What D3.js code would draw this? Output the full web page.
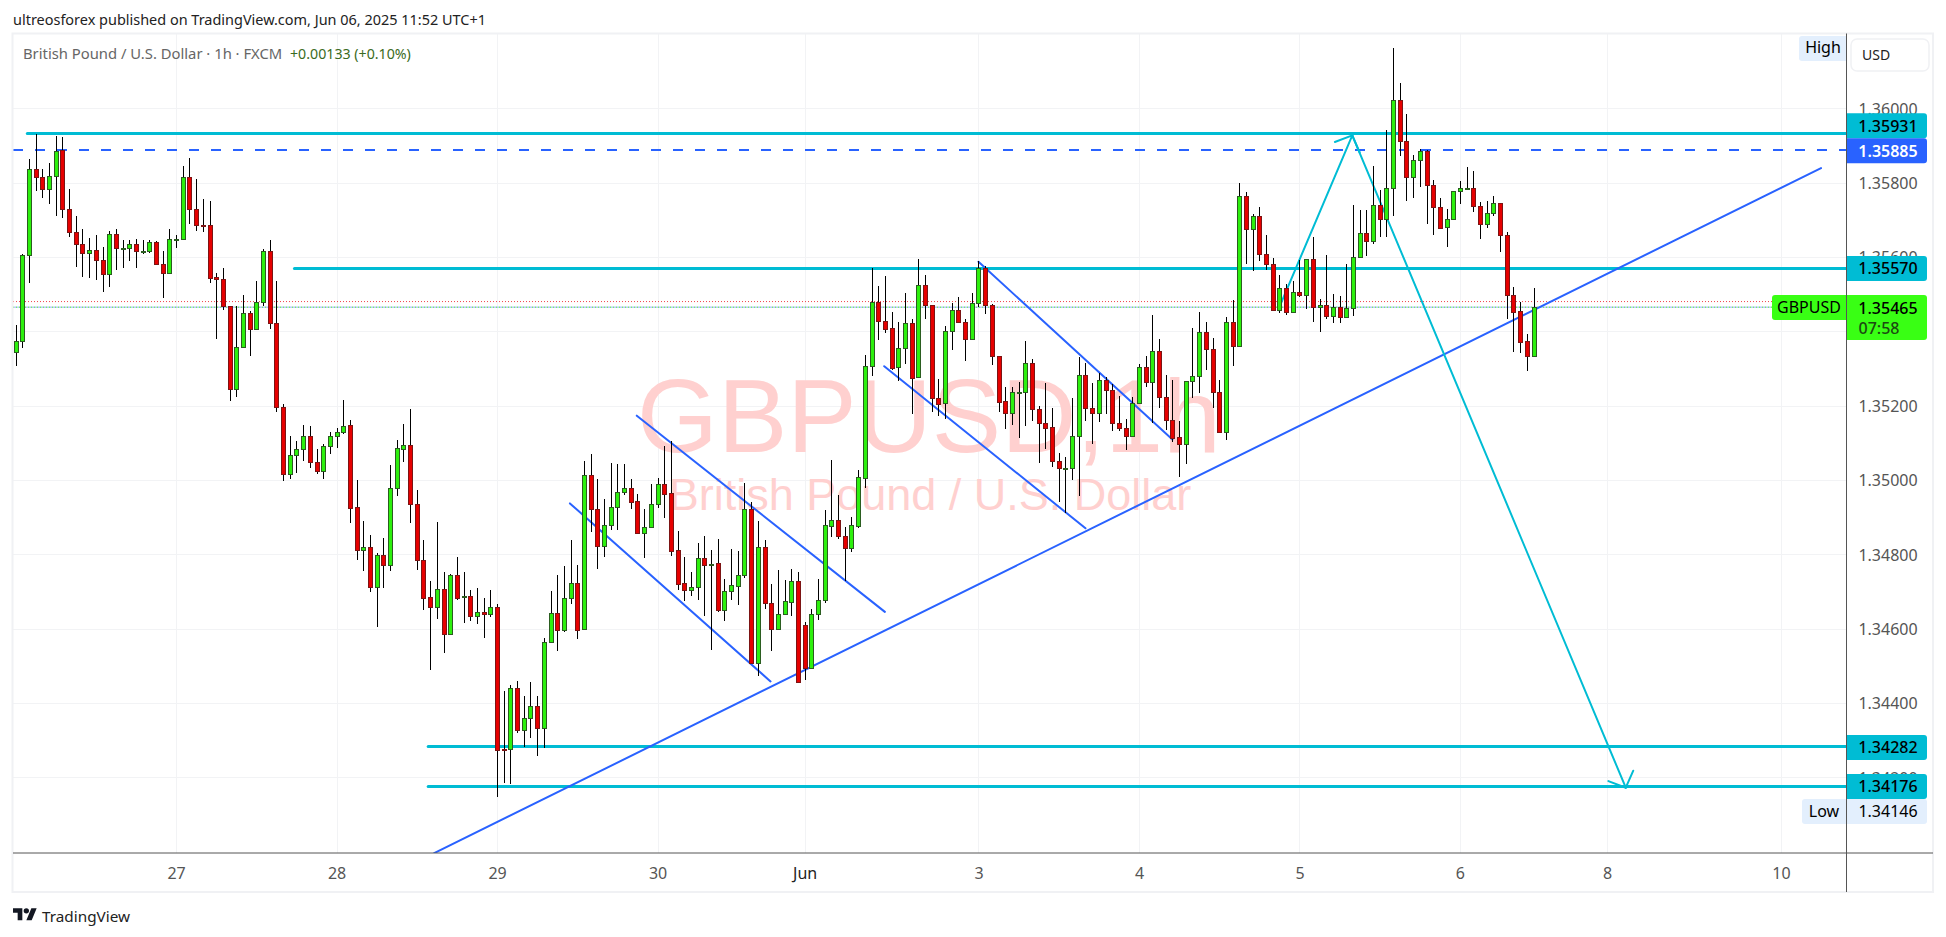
<!DOCTYPE html>
<html><head><meta charset="utf-8">
<script src="https://cdn.jsdelivr.net/npm/d3@7"></script>
<style>html,body{margin:0;padding:0;background:#fff;overflow:hidden}svg{display:block}text{font-family:"Noto Sans",sans-serif}</style>
</head><body><svg id="c" width="1946" height="937"></svg>
<script>
const opens=[
1.35343,1.35375,1.35604,1.35838,1.35816,1.35784,1.35819,1.35887,1.35728,1.35666,
1.35636,1.35612,1.35620,1.35593,1.35553,1.35663,1.35624,1.35625,1.35636,1.35616,
1.35617,1.35639,1.35580,1.35558,1.35646,1.35647,1.35816,1.35730,1.35687,1.35685,
1.35545,1.35542,1.35469,1.35246,1.35358,1.35450,1.35407,1.35480,1.35617,1.35423,
1.35197,1.35016,1.35068,1.35084,1.35119,1.35047,1.35023,1.35092,1.35117,1.35130,
1.35147,1.34926,1.34812,1.34819,1.34713,1.34797,1.34772,1.34978,1.35084,1.35093,
1.34934,1.34786,1.34684,1.34659,1.34706,1.34586,1.34743,1.34686,1.34687,1.34635,
1.34644,1.34640,1.34657,1.34275,1.34275,1.34439,1.34328,1.34359,1.34391,1.34333,
1.34563,1.34641,1.34597,1.34682,1.34722,1.34598,1.35013,1.34921,1.34823,1.34878,
1.34926,1.34967,1.34978,1.34943,1.34858,1.34873,1.34934,1.34988,1.34964,1.34811,
1.34722,1.34703,1.34711,1.34790,1.34774,1.34776,1.34651,1.34700,1.34716,1.34743,
1.34921,1.34507,1.34819,1.34668,1.34600,1.34639,1.34673,1.34728,1.34609,1.34495,
1.34639,1.34676,1.34877,1.34892,1.34849,1.34818,1.34877,1.35006,1.35306,1.35478,
1.35427,1.35408,1.35303,1.35354,1.35422,1.35276,1.35524,1.35470,1.35220,1.35206,
1.35400,1.35457,1.35424,1.35379,1.35475,1.35570,1.35470,1.35333,1.35212,1.35179,
1.35235,1.35236,1.35314,1.35190,1.35153,1.35142,1.35050,1.35031,1.35031,1.35118,
1.35282,1.35193,1.35179,1.35268,1.35241,1.35153,1.35139,1.35118,1.35206,1.35303,
1.35263,1.35346,1.35222,1.35161,1.35115,1.35096,1.35266,1.35279,1.35397,1.35352,
1.35236,1.35130,1.35424,1.35360,1.35763,1.35676,1.35710,1.35607,1.35580,1.35457,
1.35516,1.35451,1.35505,1.35499,1.35594,1.35465,1.35470,1.35440,1.35466,1.35438,
1.35462,1.35599,1.35664,1.35642,1.35739,1.35701,1.35785,1.36022,1.35911,1.35815,
1.35860,1.35884,1.35793,1.35734,1.35680,1.35701,1.35777,1.35784,1.35785,1.35736,
1.35690,1.35718,1.35745,1.35658,1.35497,1.35454,1.35373,1.35333];
const highs=[
1.35416,1.35607,1.35863,1.35930,1.35838,1.35852,1.35925,1.35922,1.35782,1.35709,
1.35676,1.35650,1.35660,1.35626,1.35671,1.35676,1.35645,1.35645,1.35648,1.35645,
1.35645,1.35644,1.35615,1.35676,1.35658,1.35846,1.35866,1.35809,1.35757,1.35750,
1.35558,1.35569,1.35469,1.35467,1.35497,1.35454,1.35534,1.35621,1.35645,1.35536,
1.35205,1.35117,1.35106,1.35147,1.35144,1.35082,1.35096,1.35130,1.35141,1.35216,
1.35161,1.34999,1.34890,1.34852,1.34803,1.34844,1.35040,1.35108,1.35150,1.35191,
1.34972,1.34838,1.34728,1.34886,1.34752,1.34747,1.34793,1.34752,1.34704,1.34708,
1.34682,1.34704,1.34665,1.34432,1.34447,1.34459,1.34419,1.34456,1.34418,1.34574,
1.34701,1.34744,1.34768,1.34838,1.34770,1.35051,1.35069,1.35003,1.34949,1.35045,
1.35043,1.35043,1.35003,1.34961,1.34922,1.34988,1.35004,1.35091,1.35104,1.34863,
1.34793,1.34753,1.34831,1.34849,1.34811,1.34842,1.34733,1.34815,1.34809,1.34992,
1.34940,1.34890,1.34839,1.34720,1.34757,1.34731,1.34761,1.34752,1.34617,1.34653,
1.34733,1.34920,1.35054,1.34960,1.34873,1.34900,1.35027,1.35335,1.35571,1.35522,
1.35548,1.35452,1.35424,1.35503,1.35432,1.35595,1.35552,1.35470,1.35271,1.35414,
1.35475,1.35492,1.35432,1.35502,1.35588,1.35575,1.35473,1.35333,1.35249,1.35249,
1.35264,1.35374,1.35326,1.35199,1.35260,1.35193,1.35072,1.35061,1.35220,1.35330,
1.35314,1.35260,1.35288,1.35276,1.35257,1.35226,1.35163,1.35223,1.35311,1.35333,
1.35444,1.35379,1.35282,1.35268,1.35158,1.35266,1.35408,1.35451,1.35424,1.35381,
1.35268,1.35438,1.35484,1.35798,1.35774,1.35715,1.35734,1.35658,1.35597,1.35551,
1.35527,1.35535,1.35591,1.35594,1.35653,1.35486,1.35605,1.35500,1.35494,1.35580,
1.35739,1.35726,1.35726,1.35844,1.35780,1.35941,1.36162,1.36067,1.35984,1.35874,
1.35890,1.35887,1.35806,1.35758,1.35728,1.35777,1.35804,1.35842,1.35831,1.35747,
1.35750,1.35763,1.35745,1.35667,1.35518,1.35480,1.35392,1.35516];
const lows=[
1.35306,1.35354,1.35529,1.35777,1.35758,1.35742,1.35710,1.35704,1.35653,1.35572,
1.35545,1.35543,1.35537,1.35505,1.35519,1.35564,1.35570,1.35589,1.35570,1.35607,
1.35610,1.35580,1.35489,1.35558,1.35624,1.35647,1.35688,1.35669,1.35667,1.35529,
1.35380,1.35457,1.35212,1.35223,1.35354,1.35333,1.35407,1.35467,1.35406,1.35182,
1.34996,1.35002,1.35018,1.35050,1.35031,1.35017,1.35002,1.35069,1.35085,1.35123,
1.34885,1.34785,1.34756,1.34699,1.34604,1.34709,1.34755,1.34957,1.35048,1.34884,
1.34758,1.34650,1.34489,1.34626,1.34534,1.34586,1.34677,1.34615,1.34621,1.34612,
1.34575,1.34632,1.34146,1.34185,1.34182,1.34319,1.34281,1.34306,1.34257,1.34279,
1.34563,1.34540,1.34591,1.34666,1.34572,1.34598,1.34859,1.34760,1.34793,1.34865,
1.34865,1.34960,1.34922,1.34858,1.34790,1.34872,1.34925,1.34898,1.34795,1.34703,
1.34675,1.34688,1.34677,1.34634,1.34543,1.34646,1.34621,1.34677,1.34664,1.34737,
1.34507,1.34473,1.34653,1.34540,1.34600,1.34639,1.34634,1.34456,1.34462,1.34495,
1.34624,1.34670,1.34847,1.34840,1.34728,1.34807,1.34871,1.34978,1.35280,1.35377,
1.35396,1.35296,1.35266,1.35312,1.35178,1.35276,1.35432,1.35183,1.35173,1.35164,
1.35350,1.35423,1.35320,1.35379,1.35466,1.35447,1.35308,1.35183,1.35137,1.35148,
1.35113,1.35145,1.35159,1.35046,1.35083,1.35035,1.34941,1.34910,1.35000,1.34957,
1.35159,1.35097,1.35156,1.35178,1.35132,1.35132,1.35081,1.35118,1.35206,1.35250,
1.35153,1.35193,1.35135,1.35101,1.35008,1.35043,1.35221,1.35234,1.35295,1.35194,
1.35126,1.35108,1.35307,1.35360,1.35581,1.35563,1.35589,1.35566,1.35457,1.35450,
1.35445,1.35451,1.35493,1.35461,1.35426,1.35399,1.35434,1.35423,1.35423,1.35438,
1.35442,1.35599,1.35603,1.35636,1.35654,1.35654,1.35709,1.35872,1.35751,1.35759,
1.35788,1.35689,1.35659,1.35675,1.35627,1.35701,1.35743,1.35780,1.35721,1.35649,
1.35678,1.35709,1.35614,1.35433,1.35344,1.35342,1.35293,1.35333];
const closes=[
1.35375,1.35604,1.35838,1.35816,1.35783,1.35819,1.35886,1.35728,1.35666,1.35636,
1.35612,1.35620,1.35593,1.35553,1.35663,1.35623,1.35625,1.35636,1.35615,1.35617,
1.35639,1.35580,1.35557,1.35647,1.35647,1.35816,1.35730,1.35686,1.35686,1.35544,
1.35542,1.35469,1.35246,1.35358,1.35450,1.35407,1.35479,1.35617,1.35423,1.35197,
1.35016,1.35068,1.35084,1.35119,1.35047,1.35023,1.35092,1.35117,1.35130,1.35146,
1.34925,1.34812,1.34819,1.34713,1.34797,1.34772,1.34978,1.35085,1.35093,1.34934,
1.34786,1.34683,1.34659,1.34706,1.34586,1.34743,1.34683,1.34687,1.34635,1.34644,
1.34640,1.34657,1.34274,1.34274,1.34439,1.34328,1.34359,1.34391,1.34333,1.34563,
1.34641,1.34597,1.34682,1.34722,1.34597,1.35013,1.34921,1.34823,1.34878,1.34926,
1.34967,1.34978,1.34942,1.34858,1.34873,1.34934,1.34988,1.34963,1.34810,1.34721,
1.34703,1.34711,1.34790,1.34772,1.34775,1.34650,1.34701,1.34717,1.34744,1.34921,
1.34507,1.34819,1.34668,1.34600,1.34639,1.34674,1.34728,1.34456,1.34495,1.34639,
1.34676,1.34878,1.34892,1.34848,1.34818,1.34878,1.35007,1.35306,1.35478,1.35427,
1.35407,1.35302,1.35354,1.35422,1.35275,1.35524,1.35470,1.35220,1.35205,1.35400,
1.35457,1.35424,1.35379,1.35475,1.35570,1.35470,1.35333,1.35211,1.35179,1.35236,
1.35236,1.35314,1.35190,1.35153,1.35141,1.35050,1.35031,1.35032,1.35118,1.35282,
1.35193,1.35179,1.35268,1.35241,1.35153,1.35139,1.35118,1.35206,1.35303,1.35263,
1.35346,1.35222,1.35161,1.35114,1.35096,1.35266,1.35279,1.35397,1.35352,1.35236,
1.35130,1.35424,1.35360,1.35763,1.35676,1.35710,1.35607,1.35580,1.35457,1.35516,
1.35451,1.35505,1.35499,1.35594,1.35465,1.35470,1.35440,1.35466,1.35438,1.35462,
1.35599,1.35664,1.35642,1.35739,1.35701,1.35785,1.36022,1.35911,1.35815,1.35860,
1.35884,1.35793,1.35734,1.35679,1.35701,1.35777,1.35785,1.35785,1.35736,1.35690,
1.35718,1.35745,1.35658,1.35497,1.35453,1.35370,1.35333,1.35465];

const priceTicks=[1.36,1.358,1.356,1.354,1.352,1.35,1.348,1.346,1.344,1.342];
const timeTickBars=[24,48,72,96,118,144,168,192,216,238,264];
const timeTickLabels=["27","28","29","30","Jun","3","4","5","6","8","10"];
// horizontal levels: [price, first bar]
const tealLevels=[[1.35931,1.75],[1.35570,41.7],[1.34282,61.7],[1.34176,61.7]];
const dashedLevel=1.35885;
const prevClose=1.3548, lastClose=1.35465;
// trend lines: [bar, price, bar, price]
const trendLines=[
 [62.6,1.33996,270,1.35839],
 [82.9,1.34937,112.9,1.34458],
 [92.9,1.35173,130,1.34645],
 [129.9,1.35306,160,1.3487],
 [144,1.35587,173,1.35109]];
// projection arrows: [bar, price] tail then tip
const arrows=[[[188.8,1.35457],[199.9,1.35927]],[[199.9,1.35927],[240.8,1.34172]]];
const axisBadges=[
 {t:"1.35931",p:1.35931,y:113.3,bg:"#00bcd4",fg:"#000"},
 {t:"1.35885",p:1.35885,y:138.3,bg:"#2962ff",fg:"#fff"},
 {t:"1.35570",p:1.3557,y:256,bg:"#00bcd4",fg:"#000"},
 {t:"1.34282",p:1.34282,y:735,bg:"#00bcd4",fg:"#000"},
 {t:"1.34176",p:1.34176,y:774,bg:"#00bcd4",fg:"#000"}];

const L=13,R=1846.5,T=33.5,B=853,FR=1933,FB=892;
const x=d3.scaleLinear().domain([0,227]).range([15.6,1533.5]);
const y=d3.scaleLinear().domain([1.342,1.36]).range([777.3,108.3]);
const svg=d3.select("#c");
const font='"Noto Sans",sans-serif';

svg.append("defs").append("clipPath").attr("id","pane").append("rect").attr("x",L).attr("y",T).attr("width",R-L).attr("height",B-T);

// watermark + grid
const pane=svg.append("g").attr("clip-path","url(#pane)");
pane.append("g").selectAll("line").data(priceTicks).join("line")
 .attr("x1",L).attr("x2",R).attr("y1",d=>Math.round(y(d))+.5).attr("y2",d=>Math.round(y(d))+.5).attr("stroke","#f2f3f5").attr("stroke-width",1);
pane.append("g").selectAll("line").data(timeTickBars).join("line")
 .attr("y1",T).attr("y2",B).attr("x1",d=>Math.round(x(d))+.5).attr("x2",d=>Math.round(x(d))+.5).attr("stroke","#f2f3f5").attr("stroke-width",1);
pane.append("text").text("GBPUSD,1h").attr("x",929).attr("y",452).attr("text-anchor","middle")
 .style("font-family","'Liberation Sans',sans-serif").style("font-size","104px").attr("fill","#ffd0cf");
pane.append("text").text("British Pound / U.S. Dollar").attr("x",930).attr("y",510).attr("text-anchor","middle")
 .style("font-family","'Liberation Sans',sans-serif").style("font-size","45px").attr("fill","#ffd0cf");

// price-lines
pane.append("line").attr("x1",L).attr("x2",1772).attr("y1",y(prevClose)).attr("y2",y(prevClose)).attr("stroke","#f0414a").attr("stroke-width",1).attr("stroke-dasharray","1 2");
pane.append("line").attr("x1",L).attr("x2",1772).attr("y1",y(lastClose)).attr("y2",y(lastClose)).attr("stroke","#39e01a").attr("stroke-width",1).attr("stroke-dasharray","1 2");
pane.append("line").attr("x1",L+1.5).attr("x2",1772).attr("y1",y(lastClose)).attr("y2",y(lastClose)).attr("stroke","#2962ff").attr("stroke-width",1).attr("stroke-dasharray","1 2");

// drawings
pane.append("line").attr("x1",L).attr("x2",R).attr("y1",Math.round(y(dashedLevel))-1).attr("y2",Math.round(y(dashedLevel))-1).attr("stroke","#2962ff").attr("stroke-width",2).attr("stroke-dasharray","10 12");
pane.append("g").selectAll("line").data(tealLevels).join("line")
 .attr("x1",d=>x(d[1])).attr("x2",R).attr("y1",d=>Math.floor(y(d[0]))+.5).attr("y2",d=>Math.floor(y(d[0]))+.5).attr("stroke","#00bcd4").attr("stroke-width",3).attr("stroke-linecap","round");
pane.append("g").selectAll("line").data(trendLines).join("line")
 .attr("x1",d=>x(d[0])).attr("y1",d=>y(d[1])).attr("x2",d=>x(d[2])).attr("y2",d=>y(d[3])).attr("stroke","#2962ff").attr("stroke-width",2).attr("stroke-linecap","round");
const ag=pane.append("g").attr("fill","none").attr("stroke","#00bcd4").attr("stroke-width",2).attr("stroke-linecap","round");
arrows.forEach(([a,b])=>{
 const x0=x(a[0]),y0=y(a[1]),x1=x(b[0]),y1=y(b[1]);
 ag.append("line").attr("x1",x0).attr("y1",y0).attr("x2",x1).attr("y2",y1);
 const ang=Math.atan2(y0-y1,x0-x1),d=46.5*Math.PI/180,len=18.6;
 [ang+d,ang-d].forEach(t=>ag.append("line").attr("x1",x1).attr("y1",y1).attr("x2",x1+len*Math.cos(t)).attr("y2",y1+len*Math.sin(t)));
});

// candles
const idx=d3.range(opens.length);
const cg=pane.append("g").attr("shape-rendering","crispEdges");
const cx=i=>Math.round(x(i));
cg.append("g").selectAll("line").data(idx).join("line")
 .attr("x1",i=>cx(i)+.5).attr("x2",i=>cx(i)+.5).attr("y1",i=>y(highs[i])).attr("y2",i=>y(lows[i])).attr("stroke","#000").attr("stroke-width",1);
cg.append("g").selectAll("rect").data(idx).join("rect")
 .attr("x",i=>cx(i)-1.5).attr("width",4)
 .attr("y",i=>Math.round(y(Math.max(opens[i],closes[i])))+.5)
 .attr("height",i=>Math.max(1,Math.round(y(Math.min(opens[i],closes[i])))-Math.round(y(Math.max(opens[i],closes[i])))))
 .attr("fill",i=>closes[i]>=opens[i]?"#2df00e":"#e60000")
 .attr("stroke",i=>closes[i]>=opens[i]?"#2b5d20":"#7c1414").attr("stroke-width",1);

// axes
const yAxis=d3.axisRight(y).tickValues(priceTicks).tickSize(0).tickPadding(0).tickFormat(d3.format(".5f"));
const ga=svg.append("g").attr("transform",`translate(${R+41.5},0)`).call(yAxis);
ga.select(".domain").remove();
ga.selectAll("text").attr("text-anchor","middle").attr("x",0).attr("dy",".36em").style("font-family",font).style("font-size","16px").attr("fill","#555");
const xAxis=d3.axisBottom(x).tickValues(timeTickBars).tickSize(0).tickPadding(0).tickFormat((d,i)=>timeTickLabels[i]);
const gx=svg.append("g").attr("transform",`translate(0,${B})`).call(xAxis);
gx.select(".domain").remove();
gx.selectAll("text").attr("y",20).attr("dy",".36em").attr("text-anchor","middle").style("font-family",font).style("font-size","16px").attr("fill",(d,i)=>timeTickLabels[i]==="Jun"?"#222":"#555");

// frame
const fg=svg.append("g");
fg.append("rect").attr("x",L-.5).attr("y",T).attr("width",FR-L+.5).attr("height",FB-T).attr("fill","none").attr("stroke","#f0f1f4").attr("stroke-width",2);
fg.append("line").attr("x1",L).attr("x2",FR).attr("y1",B).attr("y2",B).attr("stroke","#555").attr("stroke-width",1);
fg.append("line").attr("x1",R).attr("x2",R).attr("y1",T).attr("y2",FB).attr("stroke","#555").attr("stroke-width",1);

// axis badges
const badge=(x0,w,y0,h,bg)=>svg.append("path").attr("fill",bg).attr("d",`M${x0},${y0}h${w-3}a3,3 0 0 1 3,3v${h-6}a3,3 0 0 1 -3,3h${-(w-3)}z`);
const txt=(t,xp,yp,o={})=>svg.append("text").text(t).attr("x",xp).attr("y",yp).attr("dy",".36em").attr("text-anchor",o.a||"middle").style("font-family",font).style("font-size",(o.s||16)+"px").style("font-weight",o.w||400).attr("fill",o.c||"#000");
axisBadges.forEach(b=>{badge(R+.5,80,b.y,25,b.bg);txt(b.t,1888,b.y+12.5,{c:b.fg,w:b.fg==="#fff"?600:500});});
badge(R+.5,80,295,45,"#39ff14");
txt("1.35465",1888,308,{w:500});txt("07:58",1879,328,{c:"#1c4a12",w:500});
svg.append("path").attr("fill","#39ff14").attr("d","M1775,295H1846v25H1775a3,3 0 0 1 -3,-3V298a3,3 0 0 1 3,-3z");
txt("GBPUSD",1809,307.5);
svg.append("rect").attr("x",1802).attr("y",799).attr("width",125).attr("height",25).attr("rx",3).attr("fill","#e3effd");
svg.append("line").attr("x1",R).attr("x2",R).attr("y1",799).attr("y2",824).attr("stroke","#555");
txt("Low",1824,811.5);txt("1.34146",1888,811.5);
svg.append("path").attr("fill","#e3effd").attr("d","M1802,36H1846v25H1802a3,3 0 0 1 -3,-3V39a3,3 0 0 1 3,-3z");
txt("High",1823,47.5);
svg.append("rect").attr("x",1851).attr("y",39).attr("width",78).attr("height",32).attr("rx",6).attr("fill","#fff").attr("stroke","#f0f1f4").attr("stroke-width",1.5);
txt("USD",1862,54.5,{a:"start",s:14,c:"#222"});

// header
txt("ultreosforex published on TradingView.com, Jun 06, 2025 11:52 UTC+1",13,20,{a:"start",s:15,c:"#222"})
 .attr("textLength",473).attr("lengthAdjust","spacingAndGlyphs");
txt("British Pound / U.S. Dollar · 1h · FXCM",23,54,{a:"start",s:14.8,c:"#666"});
txt("+0.00133 (+0.10%)",290,54,{a:"start",s:14.2,c:"#3b6b22"});

// footer logo
const logo=svg.append("g").attr("transform","translate(13,905.5) scale(.667)").attr("fill","#131722");
logo.append("path").attr("d","M14 22H7V11H0V4h14v18zM28 22h-8l7.5-18h8L28 22z");
logo.append("circle").attr("cx",20).attr("cy",8).attr("r",4);
txt("TradingView",42,916,{a:"start",s:15.3,c:"#222"});
</script></body></html>
